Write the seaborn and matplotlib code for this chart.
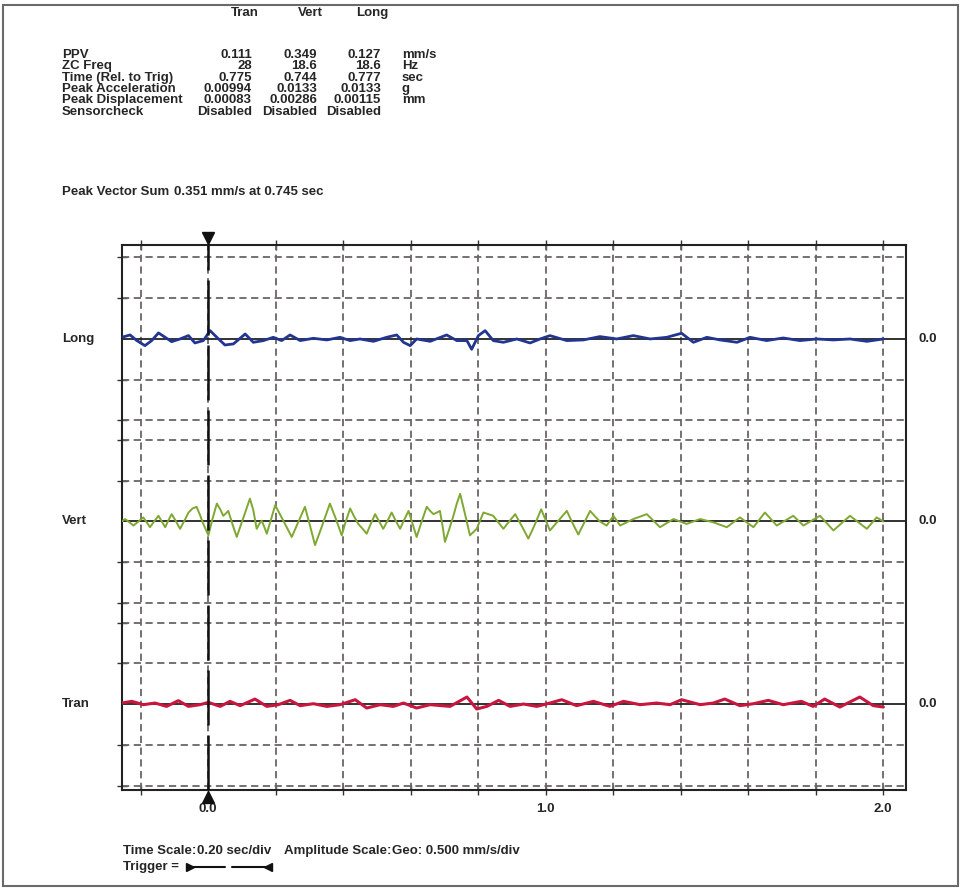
import numpy as np
import pandas as pd
import matplotlib
matplotlib.use("Agg")
import matplotlib.pyplot as plt
import matplotlib.transforms as mtransforms
from matplotlib.patches import Rectangle
from matplotlib.lines import Line2D
import seaborn as sns

# ---- data read from the record ----
channels = ["Long", "Vert", "Tran"]
offsets = [0.0, -2.24, -4.48]          # mm/s, stacking of the three traces
colors = ["#213591", "#7fa832", "#c8173f"]

row_labels = ["PPV", "ZC Freq", "Time (Rel. to Trig)", "Peak Acceleration",
              "Peak Displacement", "Sensorcheck"]
tran_vals = ["0.111", "28", "0.775", "0.00994", "0.00083", "Disabled"]
vert_vals = ["0.349", "18.6", "0.744", "0.0133", "0.00286", "Disabled"]
long_vals = ["0.127", "18.6", "0.777", "0.0133", "0.00115", "Disabled"]
units = ["mm/s", "Hz", "sec", "g", "mm", ""]

long_t = [-0.256, -0.231, -0.211, -0.187, -0.167, -0.147, -0.127, -0.108, -0.083, -0.058,
          -0.039, -0.014, 0.006, 0.026, 0.050, 0.075, 0.110, 0.134, 0.164, 0.193,
          0.218, 0.243, 0.273, 0.312, 0.352, 0.391, 0.421, 0.450, 0.490, 0.529,
          0.559, 0.579, 0.599, 0.618, 0.658, 0.707, 0.737, 0.767, 0.781, 0.801,
          0.821, 0.845, 0.875, 0.915, 0.954, 0.984, 1.013, 1.063, 1.112, 1.161,
          1.211, 1.260, 1.310, 1.359, 1.403, 1.438, 1.478, 1.517, 1.567, 1.606,
          1.655, 1.704, 1.754, 1.803, 1.853, 1.902, 1.952, 2.001]
long_v = [0.02, 0.049, -0.02, -0.082, -0.02, 0.074, 0.02, -0.033, 0.0, 0.041,
          -0.049, -0.02, 0.102, 0.02, -0.074, -0.061, 0.061, -0.041, -0.02, 0.02,
          -0.02, 0.049, -0.02, 0.008, -0.012, 0.02, -0.02, 0.0, -0.029, 0.02,
          0.049, -0.041, -0.082, 0.0, -0.029, 0.049, -0.02, -0.02, -0.127, 0.041,
          0.102, -0.02, -0.041, 0.0, -0.049, 0.0, 0.041, -0.02, -0.012, 0.029,
          0.0, 0.041, 0.0, 0.02, 0.07, -0.041, 0.02, -0.012, -0.041, 0.02,
          -0.02, 0.012, -0.02, 0.0, -0.012, 0.0, -0.029, 0.0]

vert_t = [-0.256, -0.246, -0.233, -0.221, -0.206, -0.192, -0.182, -0.172, -0.160, -0.147,
          -0.137, -0.127, -0.118, -0.108, -0.096, -0.083, -0.070, -0.058, -0.046, -0.034,
          -0.024, -0.014, 0.001, 0.013, 0.026, 0.036, 0.045, 0.053, 0.060, 0.072,
          0.085, 0.105, 0.124, 0.134, 0.144, 0.152, 0.159, 0.166, 0.174, 0.186,
          0.199, 0.223, 0.248, 0.268, 0.287, 0.302, 0.317, 0.339, 0.361, 0.378,
          0.396, 0.408, 0.421, 0.433, 0.445, 0.458, 0.470, 0.482, 0.495, 0.507,
          0.519, 0.532, 0.544, 0.556, 0.569, 0.581, 0.594, 0.606, 0.618, 0.633,
          0.648, 0.658, 0.668, 0.678, 0.687, 0.695, 0.702, 0.715, 0.727, 0.737,
          0.747, 0.762, 0.776, 0.786, 0.796, 0.806, 0.816, 0.830, 0.845, 0.860,
          0.875, 0.892, 0.910, 0.930, 0.949, 0.968, 0.987, 1.000, 1.013, 1.038,
          1.063, 1.080, 1.097, 1.115, 1.132, 1.147, 1.161, 1.181, 1.201, 1.221,
          1.260, 1.300, 1.339, 1.379, 1.418, 1.458, 1.497, 1.537, 1.576, 1.616,
          1.650, 1.685, 1.734, 1.764, 1.813, 1.853, 1.902, 1.952, 1.981, 2.001]
vert_v = [0.0, 0.03, -0.01, -0.05, 0.0, 0.05, -0.01, -0.07, 0.0, 0.07,
          0.0, -0.07, 0.01, 0.09, 0.01, -0.09, 0.01, 0.11, 0.16, 0.18,
          0.08, -0.03, -0.17, 0.03, 0.22, 0.15, 0.07, 0.10, 0.13, -0.03,
          -0.19, 0.05, 0.28, 0.14, -0.09, -0.03, 0.01, -0.06, -0.15, 0.02,
          0.20, 0.01, -0.19, 0.0, 0.18, -0.05, -0.29, -0.04, 0.22, 0.04,
          -0.17, 0.0, 0.16, 0.06, -0.03, -0.09, -0.15, -0.03, 0.09, 0.0,
          -0.09, 0.01, 0.11, 0.01, -0.09, 0.02, 0.13, -0.03, -0.19, 0.0,
          0.18, 0.13, 0.09, 0.11, 0.13, -0.06, -0.25, -0.09, 0.07, 0.22,
          0.34, 0.08, -0.17, -0.13, -0.09, 0.01, 0.11, 0.09, 0.07, -0.01,
          -0.09, 0.0, 0.09, -0.06, -0.21, -0.04, 0.15, 0.02, -0.11, 0.01,
          0.13, -0.02, -0.16, -0.01, 0.13, 0.06, 0.0, -0.05, 0.07, -0.05,
          0.03, 0.09, -0.07, 0.03, -0.03, 0.03, -0.01, -0.07, 0.05, -0.07,
          0.11, -0.05, 0.07, -0.05, 0.07, -0.11, 0.07, -0.09, 0.05, 0.0]

tran_t = [-0.256, -0.226, -0.192, -0.157, -0.123, -0.088, -0.058, -0.024, 0.001, 0.036,
          0.065, 0.095, 0.139, 0.174, 0.208, 0.243, 0.273, 0.312, 0.352, 0.391,
          0.436, 0.470, 0.510, 0.549, 0.579, 0.618, 0.658, 0.717, 0.767, 0.796,
          0.826, 0.861, 0.895, 0.935, 0.974, 1.013, 1.048, 1.092, 1.142, 1.191,
          1.231, 1.280, 1.329, 1.369, 1.403, 1.458, 1.497, 1.531, 1.576, 1.616,
          1.660, 1.704, 1.758, 1.793, 1.827, 1.872, 1.931, 1.971, 2.001]
tran_v = [0.012, 0.033, -0.008, 0.012, -0.029, 0.041, -0.029, -0.008, 0.02, -0.029,
          0.033, -0.02, 0.061, -0.029, -0.008, 0.045, -0.02, 0.004, -0.029, -0.008,
          0.053, -0.049, -0.008, -0.029, 0.012, -0.049, -0.008, -0.029, 0.086, -0.061,
          -0.029, 0.045, -0.029, 0.0, -0.029, 0.012, 0.053, -0.02, 0.033, -0.029,
          0.033, -0.008, 0.012, -0.008, 0.053, -0.008, 0.012, 0.061, -0.02, 0.004,
          0.045, -0.008, 0.033, -0.029, 0.061, -0.037, 0.086, -0.02, -0.037]

grid_t = [-0.2, 0.0, 0.2, 0.4, 0.6, 0.8, 1.0, 1.2, 1.4, 1.6, 1.8, 2.0]
tick_labels = {0.0: "0.0", 1.0: "1.0", 2.0: "2.0"}

# ---- figure ----
sns.set_style("white")
FONT = ["Liberation Sans", "DejaVu Sans"]
plt.rcParams["font.family"] = FONT
plt.rcParams["font.weight"] = "bold"

W, H = 961, 889
fig = plt.figure(figsize=(W / 100, H / 100), dpi=100)


def fx(px):
    return px / W


def fy(py):
    return 1 - py / H


ax = fig.add_axes([fx(122), fy(790), fx(906) - fx(122), fy(245) - fy(790)])
ax.set_xlim(-0.255, 2.068)
ax.set_ylim(-5.535, 1.153)

# grid: dashed at +-1 and +-2 divisions (0.5 mm/s) around each baseline
grid_y = []
for o in offsets:
    grid_y += [o + 1.0, o + 0.5, o - 0.5, o - 1.0]
for gy in grid_y:
    ax.axhline(gy, color="#6b6566", lw=1.3, ls=(0, (4, 2.5)), zorder=1)
for gt in grid_t:
    ax.axvline(gt, color="#6b6566", lw=1.3, ls=(0, (4, 2.5)), zorder=1)

# baselines
for o in offsets:
    ax.axhline(o, color="#222222", lw=1.3, zorder=2)

# traces
traces = [(long_t, long_v), (vert_t, vert_v), (tran_t, tran_v)]
widths = [2.0, 1.4, 2.2]
for (t, v), o, c, lw in zip(traces, offsets, colors, widths):
    df = pd.DataFrame({"t": t, "v": np.array(v) + o})
    sns.lineplot(data=df, x="t", y="v", color=c, lw=lw, ax=ax,
                 estimator=None, sort=False, zorder=3)

# trigger line and markers
ax.axvline(0.0, color="#111111", lw=1.8, ls=(0, (22, 4)), zorder=4)
top_tr = mtransforms.offset_copy(ax.transData, fig=fig, x=0, y=5, units="points")
bot_tr = mtransforms.offset_copy(ax.transData, fig=fig, x=0, y=-5, units="points")
ax.plot([0.0], [1.153], marker="v", color="#111111", ms=8, clip_on=False,
        transform=top_tr, zorder=5)
ax.plot([0.0], [-5.535], marker="^", color="#111111", ms=8, clip_on=False,
        transform=bot_tr, zorder=5)

fs = 9.5
# axes ticks / labels
ax.set_xticks(grid_t)
ax.set_xticklabels([tick_labels.get(round(g, 1), "") for g in grid_t],
                   fontsize=fs, fontweight="bold")
ax.set_yticks(grid_y)
ax.set_yticklabels([])
ax.tick_params(axis="x", which="both", direction="inout", length=7, width=1,
               top=True, bottom=True, pad=6, color="#333333")
ax.tick_params(axis="y", which="both", direction="inout", length=7, width=1,
               left=True, right=False, color="#333333")
ax.set_xlabel("")
ax.set_ylabel("")
for s in ax.spines.values():
    s.set_color("#222222")
    s.set_linewidth(1.5)

# channel names left, zero labels right
for name, o in zip(channels, offsets):
    ax.text(-0.255 - 60 / 337.5, o, name, ha="left", va="center",
            fontsize=fs, fontweight="bold")
    ax.text(2.068 + 13 / 337.5, o, "0.0", ha="left", va="center",
            fontsize=fs, fontweight="bold")

# ---- header table ----
hdr_y = 13
row_y = [55, 66, 78, 89, 100, 112]
for txt, cx in zip(["Tran", "Vert", "Long"], [245, 310, 372]):
    fig.text(fx(cx), fy(hdr_y), txt, ha="center", va="center",
             fontsize=fs, fontweight="bold")
for i, y in enumerate(row_y):
    fig.text(fx(62), fy(y), row_labels[i], ha="left", va="center",
             fontsize=fs, fontweight="bold")
    fig.text(fx(252), fy(y), tran_vals[i], ha="right", va="center", fontsize=fs)
    fig.text(fx(317), fy(y), vert_vals[i], ha="right", va="center", fontsize=fs)
    fig.text(fx(381), fy(y), long_vals[i], ha="right", va="center", fontsize=fs)
    fig.text(fx(402), fy(y), units[i], ha="left", va="center", fontsize=fs)


def text_run(x0, y, parts):
    """Place consecutive text pieces one after another on one baseline."""
    renderer = fig.canvas.get_renderer()
    x = fx(x0)
    for s, gap in parts:
        t = fig.text(x, fy(y), s, ha="left", va="center", fontsize=fs,
                     fontweight="bold")
        bb = t.get_window_extent(renderer=renderer)
        x = (bb.x1 + gap) / W


text_run(62, 192, [("Peak Vector Sum", 5), ("0.351 mm/s at 0.745 sec", 0)])

# ---- footer ----
text_run(123, 851, [("Time Scale:", 1), ("0.20 sec/div", 12),
                    ("Amplitude Scale:", 1), ("Geo: 0.500 mm/s/div", 0)])
fig.text(fx(123), fy(867), "Trigger =", ha="left", va="center",
         fontsize=fs, fontweight="bold")
fig.add_artist(Line2D([fx(190), fx(225)], [fy(867), fy(867)], color="#111111",
                      lw=1.5, marker=">", markevery=[0], ms=6))
fig.add_artist(Line2D([fx(232), fx(268)], [fy(867), fy(867)], color="#111111",
                      lw=1.5, marker="<", markevery=[1], ms=6))

# page frame
fig.add_artist(Rectangle((fx(3), fy(886)), fx(955), fy(5) - fy(886),
                         fill=False, edgecolor="#6a6a6a", lw=1.5))

fig.savefig("out.png", dpi=100)
